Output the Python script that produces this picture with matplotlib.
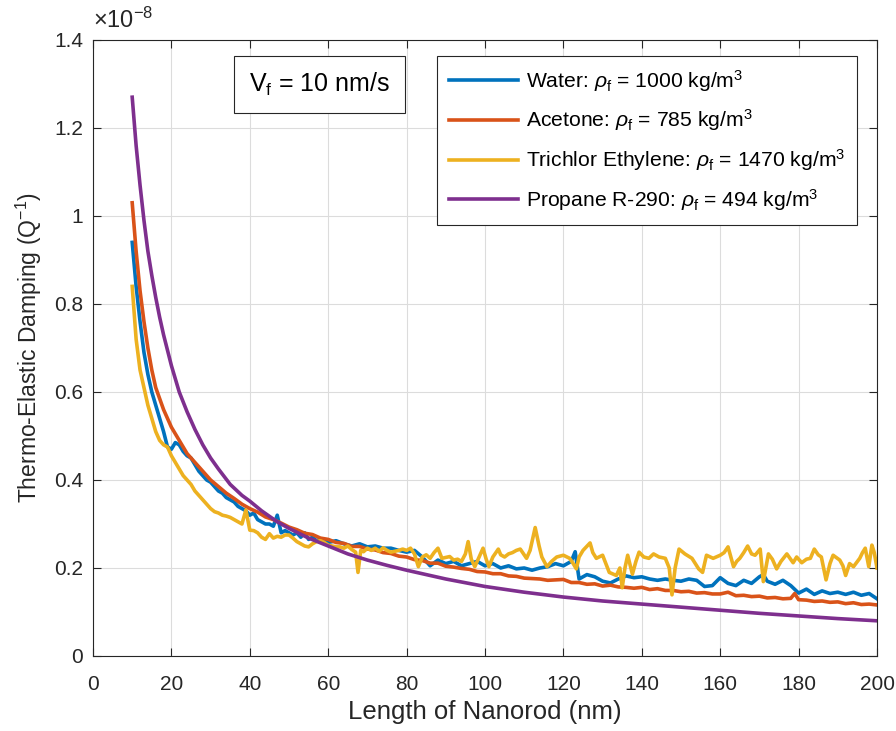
import numpy as np
import matplotlib
matplotlib.use("Agg")
import matplotlib.pyplot as plt
from matplotlib.patches import Rectangle

plt.rcParams['font.family'] = ['Liberation Sans', 'DejaVu Sans']
plt.rcParams['mathtext.fontset'] = 'custom'
plt.rcParams['mathtext.rm'] = 'Liberation Sans'
plt.rcParams['mathtext.it'] = 'Liberation Sans:italic'

# values in units of 1e-8
water_x = [10, 11, 12, 13, 14, 15, 16, 17, 18, 19, 20, 21, 22, 23, 24, 25, 26, 27, 28, 29,
           30, 31, 32, 33, 34, 35, 36, 37, 38, 39, 40, 41, 42, 43, 44, 45, 46, 47, 48, 49,
           50, 51, 52, 53, 54, 55, 56, 57, 58, 60, 62, 64, 66, 68, 70, 72, 74, 76, 78, 80,
           82, 84, 86, 88, 90, 92, 94, 96, 98, 100, 102, 104, 106, 108, 110, 112, 114, 116, 118, 120,
           122, 123, 124, 126, 128, 130, 132, 134, 136, 138, 140, 142, 144, 146, 148, 150, 152, 154, 156, 158,
           160, 162, 164, 166, 168, 170, 171, 172, 174, 176, 178, 180, 182, 184, 186, 188, 190, 192, 194, 196,
           198, 200]
water_y = [0.94, 0.84, 0.76, 0.69, 0.64, 0.60, 0.57, 0.54, 0.51, 0.475, 0.47, 0.485, 0.48, 0.465, 0.455, 0.45, 0.435, 0.42, 0.41, 0.40,
           0.395, 0.385, 0.375, 0.37, 0.36, 0.355, 0.35, 0.34, 0.335, 0.33, 0.32, 0.325, 0.31, 0.305, 0.30, 0.30, 0.295, 0.32, 0.28, 0.285,
           0.28, 0.275, 0.28, 0.27, 0.28, 0.265, 0.27, 0.262, 0.265, 0.258, 0.262, 0.255, 0.25, 0.255, 0.248, 0.25, 0.245, 0.245, 0.24, 0.236,
           0.24, 0.225, 0.205, 0.218, 0.21, 0.215, 0.205, 0.21, 0.215, 0.205, 0.21, 0.20, 0.205, 0.198, 0.20, 0.195, 0.20, 0.203, 0.21, 0.205,
           0.215, 0.237, 0.175, 0.185, 0.18, 0.17, 0.166, 0.175, 0.182, 0.178, 0.18, 0.175, 0.172, 0.175, 0.172, 0.17, 0.175, 0.172, 0.158, 0.16,
           0.178, 0.165, 0.16, 0.172, 0.165, 0.18, 0.185, 0.17, 0.163, 0.172, 0.16, 0.143, 0.152, 0.14, 0.148, 0.142, 0.145, 0.14, 0.145, 0.138,
           0.142, 0.13]

acetone_x = [10, 11, 12, 13, 14, 15, 16, 18, 20, 22, 24, 26, 28, 30, 32, 34, 36, 38, 40, 42,
             44, 46, 48, 50, 52, 54, 56, 58, 60, 62, 64, 66, 68, 70, 72, 74, 76, 78, 80, 82,
             84, 86, 88, 90, 92, 94, 96, 98, 100, 102, 104, 106, 108, 110, 112, 114, 116, 118, 120, 122,
             124, 126, 128, 130, 132, 134, 136, 138, 140, 142, 144, 146, 148, 150, 152, 154, 156, 158, 160, 162,
             164, 166, 168, 170, 172, 174, 176, 178, 179, 180, 182, 184, 186, 188, 190, 192, 194, 196, 198, 200]
acetone_y = [1.03, 0.92, 0.83, 0.76, 0.70, 0.65, 0.61, 0.56, 0.52, 0.49, 0.46, 0.44, 0.42, 0.40, 0.385, 0.37, 0.358, 0.345, 0.335, 0.327,
             0.316, 0.31, 0.302, 0.293, 0.287, 0.279, 0.276, 0.268, 0.265, 0.258, 0.256, 0.249, 0.249, 0.243, 0.241, 0.235, 0.233, 0.227, 0.225, 0.219,
             0.217, 0.211, 0.211, 0.204, 0.202, 0.199, 0.197, 0.192, 0.191, 0.187, 0.187, 0.182, 0.181, 0.177, 0.176, 0.175, 0.172, 0.173, 0.174, 0.167,
             0.167, 0.163, 0.164, 0.159, 0.161, 0.157, 0.156, 0.154, 0.156, 0.151, 0.153, 0.149, 0.149, 0.146, 0.147, 0.143, 0.144, 0.141, 0.141, 0.145,
             0.137, 0.138, 0.135, 0.136, 0.132, 0.133, 0.13, 0.131, 0.142, 0.128, 0.127, 0.124, 0.125, 0.122, 0.123, 0.119, 0.121, 0.117, 0.118, 0.116]

trichlor_x = [10, 11, 12, 13, 14, 15, 16, 17, 18, 19, 20, 21, 22, 23, 24, 25, 26, 27, 28, 29,
              30, 31, 32, 33, 34, 35, 36, 37, 38, 39, 40, 41, 42, 43, 44, 45, 46, 47, 48, 49,
              50, 51, 52, 53, 54, 55, 56, 57, 58, 59, 60, 61, 62, 63, 64, 65, 66, 67, 67.6, 68.3,
              69, 70, 71, 72, 73, 74, 75, 76, 77, 78, 79, 80, 81, 82, 83, 84, 85, 86, 87, 88,
              89, 90, 91, 92, 93, 94, 95, 95.7, 96.5, 97.4, 98.5, 99.5, 100.3, 101, 102, 103.4, 104, 105, 106, 107,
              108, 109, 110, 110.6, 111.5, 112.8, 113.8, 114.5, 115.8, 117, 118.3, 120, 121.6, 122.5, 123.3, 124, 125, 126.8, 127.5, 128.4,
              130, 131.7, 133.5, 134.4, 135, 135.7, 136.4, 137.6, 138.5, 139.3, 140.5, 141.8, 143, 144.4, 146, 147, 147.7, 148.5, 149.5, 151,
              152.8, 154.5, 155.5, 156.5, 158.2, 160, 161, 162, 163.4, 164.2, 165, 166, 167, 168, 168.9, 170.2, 171, 172.3, 173.3, 174.4,
              175.5, 177, 178.6, 179.5, 180.8, 182, 183, 184, 185, 185.8, 187, 188, 188.8, 190.5, 191.3, 192, 193, 194, 195, 195.6,
              196.3, 197, 197.9, 198.7, 199.3, 200]
trichlor_y = [0.84, 0.72, 0.65, 0.61, 0.57, 0.54, 0.51, 0.49, 0.48, 0.475, 0.455, 0.44, 0.425, 0.41, 0.40, 0.39, 0.375, 0.365, 0.355, 0.345,
              0.335, 0.328, 0.325, 0.32, 0.318, 0.315, 0.31, 0.305, 0.30, 0.332, 0.286, 0.285, 0.28, 0.27, 0.265, 0.278, 0.268, 0.272, 0.27, 0.275,
              0.275, 0.268, 0.26, 0.255, 0.25, 0.248, 0.255, 0.26, 0.262, 0.258, 0.252, 0.25, 0.248, 0.248, 0.245, 0.25, 0.242, 0.236, 0.19, 0.24,
              0.237, 0.245, 0.24, 0.245, 0.238, 0.246, 0.24, 0.236, 0.238, 0.24, 0.243, 0.24, 0.245, 0.232, 0.203, 0.225, 0.23, 0.222, 0.235, 0.245,
              0.222, 0.224, 0.226, 0.218, 0.22, 0.215, 0.232, 0.26, 0.22, 0.203, 0.225, 0.245, 0.22, 0.203, 0.225, 0.243, 0.23, 0.225, 0.232, 0.235,
              0.24, 0.243, 0.23, 0.222, 0.24, 0.292, 0.25, 0.225, 0.203, 0.215, 0.225, 0.229, 0.222, 0.21, 0.198, 0.225, 0.24, 0.257, 0.235, 0.222,
              0.229, 0.19, 0.183, 0.20, 0.155, 0.20, 0.229, 0.186, 0.215, 0.236, 0.225, 0.222, 0.232, 0.225, 0.222, 0.20, 0.139, 0.20, 0.243, 0.232,
              0.222, 0.198, 0.19, 0.229, 0.222, 0.229, 0.235, 0.248, 0.203, 0.215, 0.222, 0.235, 0.25, 0.232, 0.229, 0.243, 0.169, 0.232, 0.22, 0.198,
              0.215, 0.232, 0.212, 0.225, 0.212, 0.22, 0.222, 0.243, 0.23, 0.225, 0.173, 0.21, 0.229, 0.218, 0.205, 0.183, 0.21, 0.203, 0.215, 0.222,
              0.235, 0.245, 0.203, 0.252, 0.235, 0.20]

propane_x = [10, 11, 12, 13, 14, 15, 16, 17, 18, 19, 20, 22, 24, 26, 28, 30, 32, 35, 38, 40,
             43, 47, 50, 55, 60, 65, 70, 75, 80, 90, 100, 110, 120, 130, 140, 150, 160, 170, 180, 190,
             200]
propane_y = [1.27, 1.16, 1.07, 0.99, 0.92, 0.865, 0.815, 0.77, 0.73, 0.695, 0.66, 0.60, 0.555, 0.515, 0.48, 0.45, 0.425, 0.39, 0.365, 0.352,
             0.33, 0.305, 0.29, 0.268, 0.25, 0.232, 0.218, 0.206, 0.195, 0.175, 0.158, 0.145, 0.134, 0.125, 0.118, 0.111, 0.104, 0.097, 0.091, 0.085,
             0.08]

labels = [r'Water: $\rho_\mathrm{f}$ = 1000 kg/m$^3$',
          r'Acetone: $\rho_\mathrm{f}$ = 785 kg/m$^3$',
          r'Trichlor Ethylene: $\rho_\mathrm{f}$ = 1470 kg/m$^3$',
          r'Propane R-290: $\rho_\mathrm{f}$ = 494 kg/m$^3$']
colors = ['#0072BD', '#D95319', '#EDB120', '#7E2F8E']

fig = plt.figure(figsize=(8.96, 7.31), dpi=100)
ax = fig.add_axes([0.1038, 0.1026, 0.875, 0.8427])

series = [(water_x, water_y), (acetone_x, acetone_y), (trichlor_x, trichlor_y), (propane_x, propane_y)]
for (xs, ys), lab, c in zip(series, labels, colors):
    ax.plot(xs, ys, color=c, lw=2.6, label=lab)

ax.set_xlim(0, 200)
ax.set_ylim(0, 1.4)
ax.set_xticks(np.arange(0, 201, 20))
ax.set_yticks(np.arange(0, 1.41, 0.2))
ax.set_yticklabels(['0', '0.2', '0.4', '0.6', '0.8', '1', '1.2', '1.4'])
ax.grid(True, color='#dcdcdc', lw=0.8)
ax.set_axisbelow(True)
ax.tick_params(direction='in', top=True, right=True, labelsize=15, colors='#262626', length=6)
ax.tick_params(axis='x', pad=14)
ax.tick_params(axis='y', pad=7)
for sp in ax.spines.values():
    sp.set_color('#262626')
    sp.set_linewidth(0.8)

ax.set_xlabel('Length of Nanorod (nm)', fontsize=18.5, color='#262626', labelpad=4)
ax.set_ylabel(r'Thermo-Elastic Damping (Q$^{-1}$)', fontsize=16.5, color='#262626', labelpad=7)
ax.text(0.0, 1.012, r'$\times$10$^{-8}$', transform=ax.transAxes, fontsize=17,
        color='#262626', ha='left', va='bottom')

# annotation box
ax.add_patch(Rectangle((0.180, 0.881), 0.218, 0.093, transform=ax.transAxes,
                       facecolor='white', edgecolor='#262626', lw=0.8, zorder=5))
ax.text(0.289, 0.928, r'V$_\mathrm{f}$ = 10 nm/s', transform=ax.transAxes, fontsize=18,
        ha='center', va='center', zorder=6)

leg = ax.legend(loc='upper right', bbox_to_anchor=(0.974, 0.974), borderaxespad=0,
                fontsize=15.2, fancybox=False, edgecolor='#262626', framealpha=1,
                handlelength=3.3, handletextpad=0.35, labelspacing=0.66, borderpad=0.55)
leg.get_frame().set_linewidth(0.8)

fig.savefig('out.png', dpi=100)
